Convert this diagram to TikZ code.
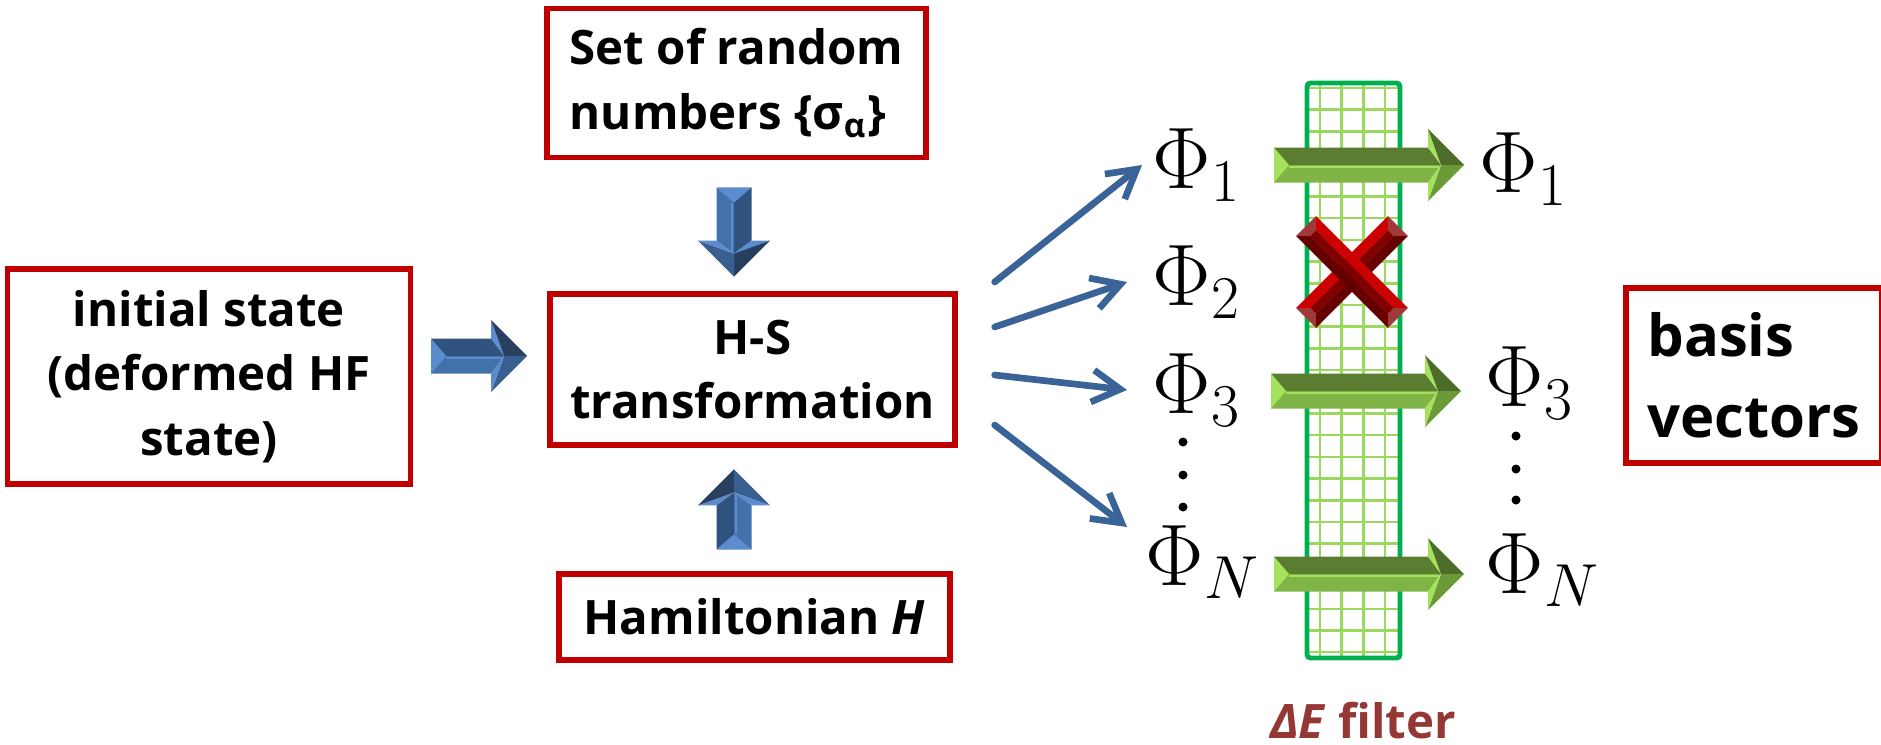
\documentclass[tikz,border=0pt]{standalone}
\usepackage[no-math]{fontspec}
\usepackage{tikz}
\usetikzlibrary{calc,arrows.meta}
\newfontfamily\boxfont{Open Sans}

\definecolor{boxred}{HTML}{C00000}
\definecolor{fanblue}{HTML}{3A6397}
\definecolor{labelred}{HTML}{953735}
\definecolor{filtergreen}{HTML}{00B050}
\definecolor{gridgreen}{HTML}{9AD95E}
% bevel colours: steel = blue block arrows, leaf = green block arrows
\definecolor{steeltop}{HTML}{30527F}
\definecolor{steellow}{HTML}{4371A9}
\definecolor{steellight}{HTML}{5A8CCE}
\definecolor{steeltip}{HTML}{283F60}
\definecolor{steeltipl}{HTML}{395F90}
\definecolor{leaftop}{HTML}{5A7D32}
\definecolor{leaflow}{HTML}{80B446}
\definecolor{leaflight}{HTML}{A4E25C}
\definecolor{leaftip}{HTML}{4E6C29}
\definecolor{leaftipl}{HTML}{6D9A38}
\definecolor{crossface}{HTML}{800000}
\definecolor{crosshi}{HTML}{CC0000}
\definecolor{crosslo}{HTML}{660000}
\definecolor{crossend}{HTML}{A03A3A}

\tikzset{
  pics/bevelarrow/.style 2 args={code={
    \fill[#2top] (0,0) -- (0,.175) -- (#1-.36,.175) -- (#1-.23,0) -- cycle;
    \fill[#2low] (0,0) -- (0,-.175) -- (#1-.36,-.175) -- (#1-.23,0) -- cycle;
    \draw[#2light, line width=0.6pt] (.15,-.02) -- (#1-.25,-.02);
    \fill[#2light] (0,.175) -- (.15,0) -- (0,-.175) -- cycle;
    \fill[#2light] (#1-.36,.36) -- (#1-.23,0) -- (#1-.36,.175) -- cycle;
    \fill[#2tip] (#1-.36,.36) -- (#1,0) -- (#1-.23,0) -- cycle;
    \fill[#2tipl] (#1-.36,-.36) -- (#1,0) -- (#1-.23,0) -- cycle;
    \fill[#2light] (#1-.36,-.36) -- (#1-.23,0) -- (#1-.36,-.175) -- cycle;
  }},
  pics/redcross/.style={code={
    \foreach \a in {45,-45} {
      \begin{scope}[rotate=\a]
        \fill[crosshi] (-.65,.14) -- (.65,.14) -- (.55,.04) -- (-.55,.04) -- cycle;
        \fill[crosslo] (-.65,-.14) -- (.65,-.14) -- (.55,-.04) -- (-.55,-.04) -- cycle;
        \fill[crossend] (-.65,.14) -- (-.55,.04) -- (-.55,-.04) -- (-.65,-.14) -- cycle;
        \fill[crossend] (.65,.14) -- (.55,.04) -- (.55,-.04) -- (.65,-.14) -- cycle;
        \fill[crossface] (-.55,-.04) rectangle (.55,.04);
      \end{scope}
    }
  }}
}

\begin{document}
\begin{tikzpicture}[
  box/.style={draw=boxred, line width=1.5pt, inner sep=0pt,
    font=\boxfont\bfseries\fontsize{13.5}{18.4}\selectfont},
  fan/.style={draw=fanblue, line width=1.9pt, line cap=round,
    -{Straight Barb[length=2.8mm,width=3.2mm]}},
  phi/.style={inner sep=0pt, anchor=base west, font=\fontsize{24}{28}\selectfont},
  gridline/.style={draw=gridgreen, line width=0.7pt}
]
\useasboundingbox (0,0) rectangle (18.81,-7.44);

% boxes
\node[box, minimum width=3.79cm, minimum height=1.49cm, align=left] (rand) at (7.365,-0.83)
  {Set of random\\numbers \{σ\textsubscript{α}\}};
\node[box, minimum width=4.03cm, minimum height=2.15cm, align=center] (init) at (2.09,-3.765)
  {initial state\\(deformed HF\\state)};
\node[box, minimum width=4.05cm, minimum height=1.51cm, align=center] (hs) at (7.525,-3.695)
  {H-S\\transformation};
\node[box, minimum width=3.91cm, minimum height=0.86cm] (ham) at (7.545,-6.17)
  {Hamiltonian \textit{H}};
\node[box, minimum width=2.56cm, minimum height=1.75cm, align=left,
  font=\boxfont\bfseries\fontsize{16.5}{23}\selectfont] (basis) at (17.54,-3.755)
  {basis\\vectors};

% block arrows into the transformation
\pic at ($(init.east)+(0.18,0.205)$) {bevelarrow={0.96}{steel}};
\pic[rotate=-90] at ($(rand.south)+(-0.025,-0.274)$) {bevelarrow={0.89}{steel}};
\pic[rotate=90] at ($(ham.north)+(-0.205,0.22)$) {bevelarrow={0.80}{steel}};

% sampled states
\node[phi] (phi1) at (11.52,-1.88) {$\Phi_1$};
\node[phi] (phi2) at (11.52,-3.05) {$\Phi_2$};
\node[phi] (phi3) at (11.52,-4.13) {$\Phi_3$};
\node[phi] (phiN) at (11.45,-5.85) {$\Phi_N$};
\foreach \y in {4.42,4.75,5.07} \fill (11.83,-\y) circle (0.045);

\draw[fan] ($(hs.east)+(0.37,0.875)$) -- ($(phi1.base west)+(-0.10,0.23)$);
\draw[fan] ($(hs.east)+(0.37,0.425)$) -- ($(phi2.base west)+(-0.25,0.23)$);
\draw[fan] ($(hs.east)+(0.37,-0.055)$) -- ($(phi3.base west)+(-0.25,0.23)$);
\draw[fan] ($(hs.east)+(0.37,-0.555)$) -- ($(phiN.base west)+(-0.18,0.58)$);

% energy filter
\foreach \x in {13.20,13.417,13.634,13.851} \draw[gridline] (\x,-0.83) -- (\x,-6.58);
\foreach \k in {0,...,26} \draw[gridline] (13.08,-0.88-0.217*\k) -- (14.00,-0.88-0.217*\k);
\node[draw=filtergreen, line width=1.4pt, rounded corners=1pt, inner sep=0pt,
  minimum width=0.93cm, minimum height=5.75cm] (filter) at (13.535,-3.705) {};
\node[anchor=base, text=labelred, font=\boxfont\bfseries\fontsize{13.5}{16}\selectfont]
  (flabel) at (13.63,-7.38) {\textit{ΔE} filter};

% kept states
\pic at (12.74,-1.65) {bevelarrow={1.90}{leaf}};
\pic at (12.71,-3.91) {bevelarrow={1.90}{leaf}};
\pic at (12.74,-5.74) {bevelarrow={1.90}{leaf}};
\pic at (13.52,-2.72) {redcross};

\node[phi] (phi1r) at (14.79,-1.92) {$\Phi_1$};
\node[phi] (phi3r) at (14.85,-4.06) {$\Phi_3$};
\node[phi] (phiNr) at (14.85,-5.93) {$\Phi_N$};
\foreach \y in {4.36,4.69,5.00} \fill (15.16,-\y) circle (0.045);
\end{tikzpicture}
\end{document}
